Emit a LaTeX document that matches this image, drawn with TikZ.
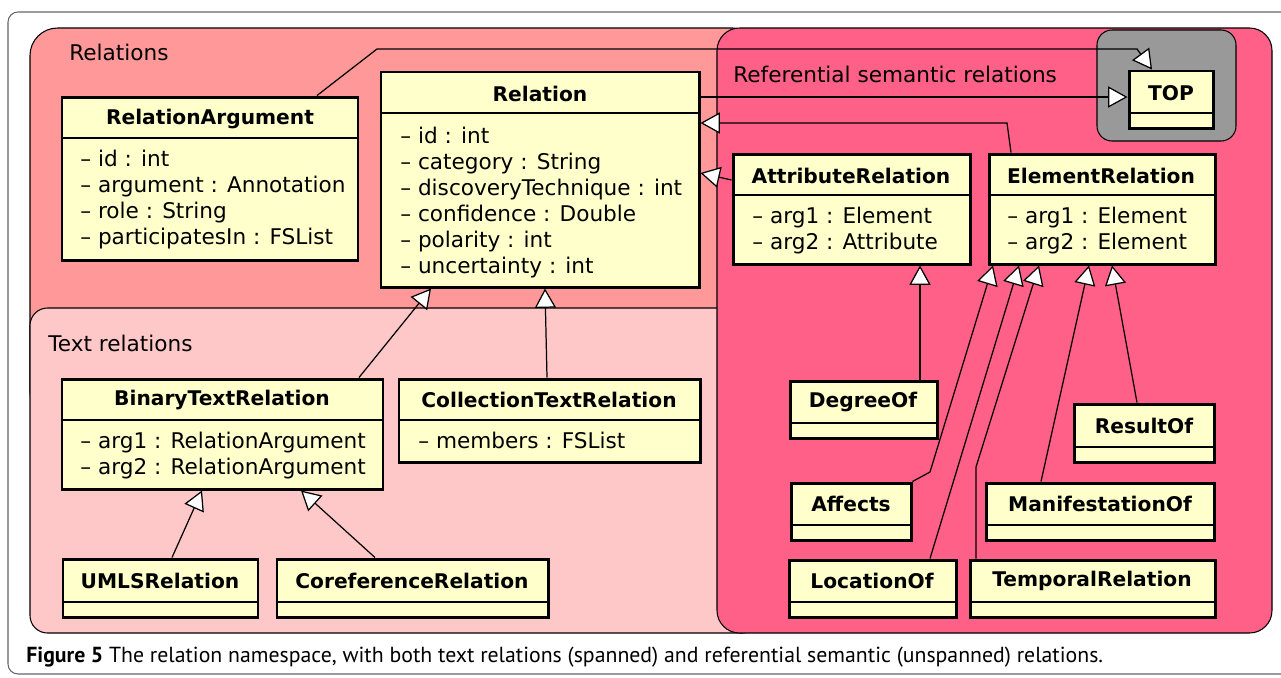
\documentclass[tikz,border=0pt]{standalone}
\usepackage{fontspec}
\setmainfont{DejaVu Sans}
\newfontfamily\capfont{PT Sans}
\usetikzlibrary{fit,arrows.meta}

\definecolor{relsalmon}{HTML}{FF9999}
\definecolor{txtpink}{HTML}{FFC8C8}
\definecolor{refpink}{HTML}{FF6088}
\definecolor{topgray}{HTML}{999999}
\definecolor{umlyellow}{HTML}{FFFFCC}

\tikzset{
  region/.style={draw=black,line width=0.6pt},
  classbox/.style={draw,line width=1.7pt,fill=umlyellow,inner sep=0pt},
  classname/.style={inner sep=0pt,font=\fontsize{11.5}{14}\selectfont\bfseries},
  attrlist/.style={anchor=north west,align=left,inner sep=0pt,font=\fontsize{12.3}{14.75}\selectfont},
  divline/.style={line width=0.8pt},
  gen/.style={line width=0.7pt,-{Triangle[fill=white,length=11pt,width=12pt]}},
  reglabel/.style={anchor=west,inner sep=0pt,font=\fontsize{12.3}{14}\selectfont}
}

\begin{document}
\begin{tikzpicture}[x=0.02cm,y=-0.02cm]
\clip (0,0) rectangle (1281,677);
\draw [black!60,line width=0.6pt,rounded corners=0.2cm] (8,12) rectangle (1320,674);

% packages
\draw [region,fill=relsalmon,rounded corners=0.55cm] (30,28) rectangle (760,420);
\draw [region,fill=txtpink,rounded corners=0.35cm] (30,308) rectangle (760,633);
\draw [region,fill=refpink,rounded corners=0.45cm] (717,28) rectangle (1272,633);
\draw [region,fill=topgray,rounded corners=0.3cm] (1097,30) rectangle (1236,141);
\node [reglabel] (relations-l) at (69,52) {Relations};
\node [reglabel] (text-l) at (48,343) {Text relations};
\node [reglabel] (ref-l) at (733,74) {Referential semantic relations};

% classes with attributes
\node [classbox,fit={(62,97) (358,260)}] (relarg) {};
\draw [divline] (relarg.west |- 0,138) -- (relarg.east |- 0,138);
\node [classname] (relarg-t) at (210,119) {RelationArgument};
\node [attrlist] (relarg-a) at (80,150) {-- id : int\\-- argument : Annotation\\-- role : String\\-- participatesIn : FSList};

\node [classbox,fit={(381,72) (699,287)}] (relation) {};
\draw [divline] (relation.west |- 0,113) -- (relation.east |- 0,113);
\node [classname] (relation-t) at (540,94) {Relation};
\node [attrlist] (relation-a) at (400,127) {-- id : int\\-- category : String\\-- discoveryTechnique : int\\-- confidence : Double\\-- polarity : int\\-- uncertainty : int};

\node [classbox,fit={(733,154) (970,264)}] (attrrel) {};
\draw [divline] (attrrel.west |- 0,195) -- (attrrel.east |- 0,195);
\node [classname] (attrrel-t) at (851,176) {AttributeRelation};
\node [attrlist] (attrrel-a) at (752,207) {-- arg1 : Element\\-- arg2 : Attribute};

\node [classbox,fit={(989,154) (1215,264)}] (elemrel) {};
\draw [divline] (elemrel.west |- 0,195) -- (elemrel.east |- 0,195);
\node [classname] (elemrel-t) at (1101,176) {ElementRelation};
\node [attrlist] (elemrel-a) at (1007,207) {-- arg1 : Element\\-- arg2 : Element};

\node [classbox,fit={(62,379) (383,489)}] (binrel) {};
\draw [divline] (binrel.west |- 0,420) -- (binrel.east |- 0,420);
\node [classname] (binrel-t) at (222,400) {BinaryTextRelation};
\node [attrlist] (binrel-a) at (80,432) {-- arg1 : RelationArgument\\-- arg2 : RelationArgument};

\node [classbox,fit={(399,379) (700,462)}] (colrel) {};
\draw [divline] (colrel.west |- 0,420) -- (colrel.east |- 0,420);
\node [classname] (colrel-t) at (549,400) {CollectionTextRelation};
\node [attrlist] (colrel-a) at (418,432) {-- members : FSList};

% classes without attributes
\node [classbox,fit={(1129,71) (1213,128)}] (top) {};
\draw [divline] (top.west |- 0,113) -- (top.east |- 0,113);
\node [classname] (top-t) at (1171,93) {TOP};

\node [classbox,fit={(63,559) (258,617)}] (umls) {};
\draw [divline] (umls.west |- 0,602) -- (umls.east |- 0,602);
\node [classname] (umls-t) at (160,581) {UMLSRelation};

\node [classbox,fit={(277,559) (548,617)}] (coref) {};
\draw [divline] (coref.west |- 0,602) -- (coref.east |- 0,602);
\node [classname] (coref-t) at (412,581) {CoreferenceRelation};

\node [classbox,fit={(790,381) (937,438)}] (degree) {};
\draw [divline] (degree.west |- 0,423) -- (degree.east |- 0,423);
\node [classname] (degree-t) at (863,402) {DegreeOf};

\node [classbox,fit={(1074,404) (1214,462)}] (result) {};
\draw [divline] (result.west |- 0,447) -- (result.east |- 0,447);
\node [classname] (result-t) at (1144,426) {ResultOf};

\node [classbox,fit={(791,483) (911,540)}] (affects) {};
\draw [divline] (affects.west |- 0,525) -- (affects.east |- 0,525);
\node [classname] (affects-t) at (851,504) {Affects};

\node [classbox,fit={(986,483) (1214,540)}] (manif) {};
\draw [divline] (manif.west |- 0,525) -- (manif.east |- 0,525);
\node [classname] (manif-t) at (1100,504) {ManifestationOf};

\node [classbox,fit={(789,560) (956,617)}] (location) {};
\draw [divline] (location.west |- 0,602) -- (location.east |- 0,602);
\node [classname] (location-t) at (872,581) {LocationOf};

\node [classbox,fit={(970,560) (1215,617)}] (temporal) {};
\draw [divline] (temporal.west |- 0,602) -- (temporal.east |- 0,602);
\node [classname] (temporal-t) at (1092,581) {TemporalRelation};

% generalizations
\draw [gen] (relarg.north -| 317,0) -- (377,49) -- (1137,49) -- (top.north -| 1152,0);
\draw [gen] (relation.east |- 0,97) -- (top.west |- 0,97);
\draw [gen] (elemrel.north -| 1011,0) -- (1007,123) -- (relation.east |- 0,123);
\draw [gen] (attrrel.west |- 0,180) -- (relation.east |- 0,173);
\draw [gen] (binrel.north -| 359,0) -- (relation.south -| 431,0);
\draw [gen] (colrel.north -| 547,0) -- (relation.south -| 545,0);
\draw [gen] (umls.north -| 172,0) -- (binrel.south -| 202,0);
\draw [gen] (coref.north -| 375,0) -- (binrel.south -| 301,0);
\draw [gen] (degree.north -| 920,0) -- (attrrel.south -| 920,0);
\draw [gen] (affects.north east) -- (930,472) -- (elemrel.south -| 993,0);
\draw [gen] (location.north -| 930,0) -- (elemrel.south -| 1019,0);
\draw [gen] (temporal.north -| 976,0) -- (976,467) -- (elemrel.south -| 1039,0);
\draw [gen] (manif.north -| 1041,0) -- (elemrel.south -| 1089,0);
\draw [gen] (result.north -| 1137,0) -- (elemrel.south -| 1112,0);

\node [anchor=west,inner sep=0pt,font=\capfont\fontsize{12.4}{14}\selectfont] (caption) at (26,657) {\textbf{Figure 5} The relation namespace, with both text relations (spanned) and referential semantic (unspanned) relations.};
\end{tikzpicture}
\end{document}
